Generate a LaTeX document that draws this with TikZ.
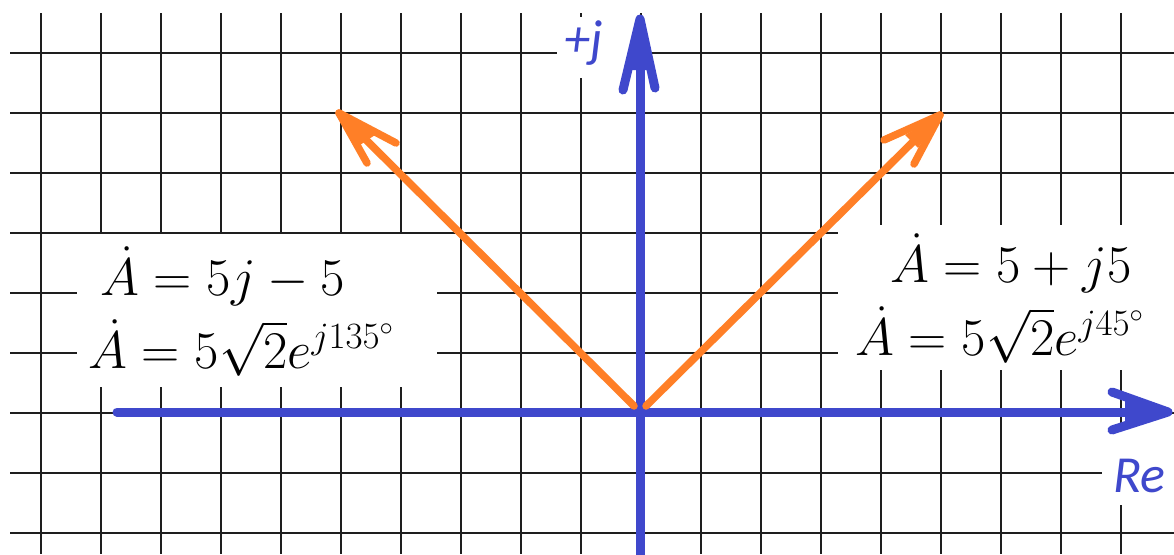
\documentclass[tikz,border=0pt]{standalone}
\usepackage{fix-cm}
\usepackage{fontspec}
\newfontfamily\calib{Carlito}
\definecolor{indigo}{HTML}{3F48CC}
\definecolor{paintorange}{HTML}{FF7F27}
\definecolor{gridc}{HTML}{1E1E1E}
\tikzset{
  gridline/.style={draw=gridc, line width=2pt},
  whitebox/.style={fill=white, draw=none},
  axisline/.style={draw=indigo, line width=9pt, line cap=round, line join=round},
  phasor/.style={draw=paintorange, line width=7.5pt, line cap=round, line join=round},
  mathlabel/.style={anchor=base west, inner sep=0pt, font=\fontsize{53}{64}\selectfont},
  axislabel/.style={anchor=base west, inner sep=0pt, text=indigo, font=\calib\itshape\fontsize{52}{62}\selectfont}
}
\begin{document}
\begin{tikzpicture}[x=1pt,y=-1pt]
\useasboundingbox (0,0) rectangle (1174,554);
\fill[white] (0,0) rectangle (1174,554);
% grid
\foreach \k in {0,...,18} \draw[gridline] (40.7+60*\k,13) -- (40.7+60*\k,554);
\foreach \k in {0,...,8} \draw[gridline] (10,53.3+60*\k) -- (1174,53.3+60*\k);
% white label backgrounds
\fill[whitebox] (77,234) rectangle (437,387);
\fill[whitebox] (838,225) rectangle (1174,370);
\fill[whitebox] (557,17) rectangle (632,78);
\fill[whitebox] (1102,430) rectangle (1174,505);
% labels
\node[mathlabel] (L1) at (100,295) {$\dot A = 5j - 5$};
\node[mathlabel] (L2) at (88,368) {$\dot A = 5\sqrt{2}e^{j135^\circ}$};
\node[mathlabel] (R1) at (890,282) {$\dot A = 5 + j5$};
\node[mathlabel] (R2) at (855,355) {$\dot A = 5\sqrt{2}e^{j45^\circ}$};
\node[axislabel] (J) at (564,56) {+j};
\node[axislabel] (Re) at (1113,492) {Re};
% axes
\coordinate (xstart) at (117,412);
\coordinate (xend) at (1158,412);
\coordinate (xtip) at (1168,412);
\coordinate (xw1) at (1112,392);
\coordinate (xw2) at (1112,430);
\coordinate (ystart) at (640,560);
\coordinate (yend) at (640,30);
\coordinate (ytip) at (640,19);
\coordinate (yw1) at (623,90);
\coordinate (yw2) at (655,88);
\draw[axisline] (xstart) -- (xend);
\draw[axisline] (xw1) -- (xtip) -- (xw2);
\fill[indigo] (xtip) -- (1125,400) -- (1125,424) -- cycle;
\draw[axisline] (ystart) -- (yend);
\draw[axisline] (yw1) -- (ytip) -- (yw2);
\fill[indigo] (ytip) -- (630,70) -- (650,70) -- cycle;
% phasors
\coordinate (OL) at (634,406);
\coordinate (OR) at (646,406);
\coordinate (tipL) at (339,113);
\coordinate (tipR) at (940,115);
\coordinate (lw1) at (367,163);
\coordinate (lw2) at (396,143);
\coordinate (rw1) at (884,140);
\coordinate (rw2) at (914,164);
\draw[phasor] (OL) -- (tipL);
\draw[phasor] (lw1) -- (tipL) -- (lw2);
\fill[paintorange] (tipL) -- (360,145) -- (375,135) -- cycle;
\draw[phasor] (OR) -- (tipR);
\draw[phasor] (rw1) -- (tipR) -- (rw2);
\fill[paintorange] (tipR) -- (905,135) -- (918,148) -- cycle;
\end{tikzpicture}
\end{document}
